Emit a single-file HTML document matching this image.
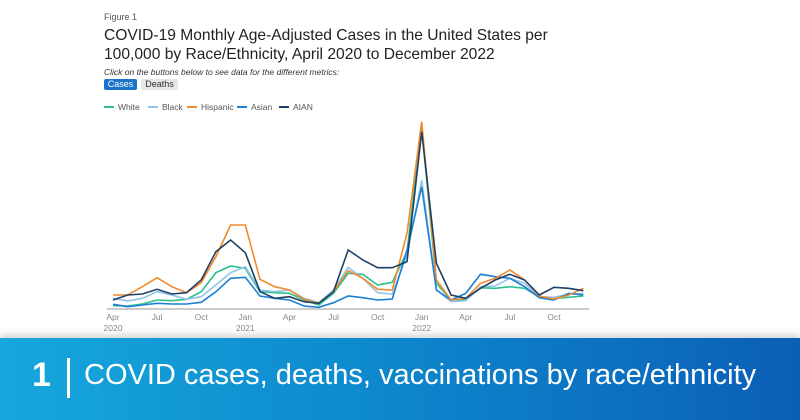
<!DOCTYPE html>
<html><head><style>
body{margin:0;width:800px;height:420px;overflow:hidden;background:#fff;font-family:"Liberation Sans",sans-serif;position:relative}
.t{position:absolute;white-space:nowrap}
#banner{position:absolute;left:0;top:338px;width:800px;height:82px;background:linear-gradient(90deg,#16a8dc,#0d86cc 50%,#0b5eb6);box-shadow:0 -4px 6px rgba(0,0,0,0.15)}
</style></head><body>
<div class="t" style="left:104px;top:12px;font-size:9px;color:#555">Figure 1</div>
<div class="t" style="left:104px;top:26px;font-size:15.6px;line-height:19px;color:#222">COVID-19 Monthly Age-Adjusted Cases in the United States per<br>100,000 by Race/Ethnicity, April 2020 to December 2022</div>
<div class="t" style="left:104px;top:67px;font-size:8.5px;font-style:italic;color:#333">Click on the buttons below to see data for the different metrics:</div>
<div class="t" style="left:104px;top:79px;width:33px;height:11px;background:#1a73c9;color:#fff;font-size:9px;line-height:11px;text-align:center;border-radius:2px">Cases</div>
<div class="t" style="left:141px;top:79px;width:37px;height:11px;background:#e6e6e6;color:#333;font-size:9px;line-height:11px;text-align:center;border-radius:2px">Deaths</div>
<svg width="800" height="420" style="position:absolute;left:0;top:0" id="s" font-family="Liberation Sans" font-size="8.5" fill="#888"></svg>
<div id="banner">
<div class="t" style="left:32px;top:18px;font-size:34px;font-weight:bold;color:#fff">1</div>
<div class="t" style="left:67px;top:20px;width:3px;height:40px;background:#fff"></div>
<div class="t" style="left:84px;top:21px;font-size:29px;color:#fff">COVID cases, deaths, vaccinations by race/ethnicity</div>
</div>
<script>
var d={
"#f28a2b":[555,555,530,503,530,548,518,440,345,345,508,530,540,568,580,545,482,505,538,540,370,35,510,570,565,520,505,480,510,558,567,555,535],
"#1f3f66":[570,555,552,538,552,548,510,425,390,428,545,565,560,575,580,545,420,450,473,473,455,65,460,555,565,535,510,493,510,555,532,535,542],
"#2cc08f":[587,588,582,570,572,568,545,488,468,475,545,548,550,570,585,550,490,493,525,517,425,50,520,570,568,533,535,530,535,560,565,562,558],
"#92c5ea":[565,573,565,545,555,568,560,525,488,470,540,545,540,565,578,540,472,505,548,553,435,210,540,575,572,530,528,505,520,560,562,553,550],
"#1d80d4":[583,590,585,580,582,582,577,545,505,502,558,565,570,588,592,578,558,563,570,567,420,230,540,570,550,493,500,505,530,563,570,550,555]};
var h='<line x1="107" y1="309" x2="589" y2="309" stroke="#999" stroke-width="1"/>';
var order=["#2cc08f","#92c5ea","#1d80d4","#f28a2b","#1f3f66"];
order.forEach(function(c){var p=d[c].map(function(v,i){return (113+i*14.7).toFixed(1)+","+(v/3+110).toFixed(1)}).join(" ");
h+='<polyline points="'+p+'" fill="none" stroke="'+c+'" stroke-width="1.6"/>';});
var lg=[["White","#2cc08f",104],["Black","#92c5ea",148],["Hispanic","#f28a2b",187],["Asian","#1d80d4",237],["AIAN","#1f3f66",279]];
lg.forEach(function(l){h+='<line x1="'+l[2]+'" y1="107" x2="'+(l[2]+10)+'" y2="107" stroke="'+l[1]+'" stroke-width="2"/><text x="'+(l[2]+14)+'" y="110" fill="#555">'+l[0]+'</text>';});
var lab=[["Apr",0,"2020"],["Jul",3],["Oct",6],["Jan",9,"2021"],["Apr",12],["Jul",15],["Oct",18],["Jan",21,"2022"],["Apr",24],["Jul",27],["Oct",30]];
lab.forEach(function(l){var x=113+l[1]*14.7;h+='<text x="'+x+'" y="320" text-anchor="middle">'+l[0]+'</text>';if(l[2])h+='<text x="'+x+'" y="331" text-anchor="middle">'+l[2]+'</text>';});
document.getElementById("s").innerHTML=h;
</script>
</body></html>
